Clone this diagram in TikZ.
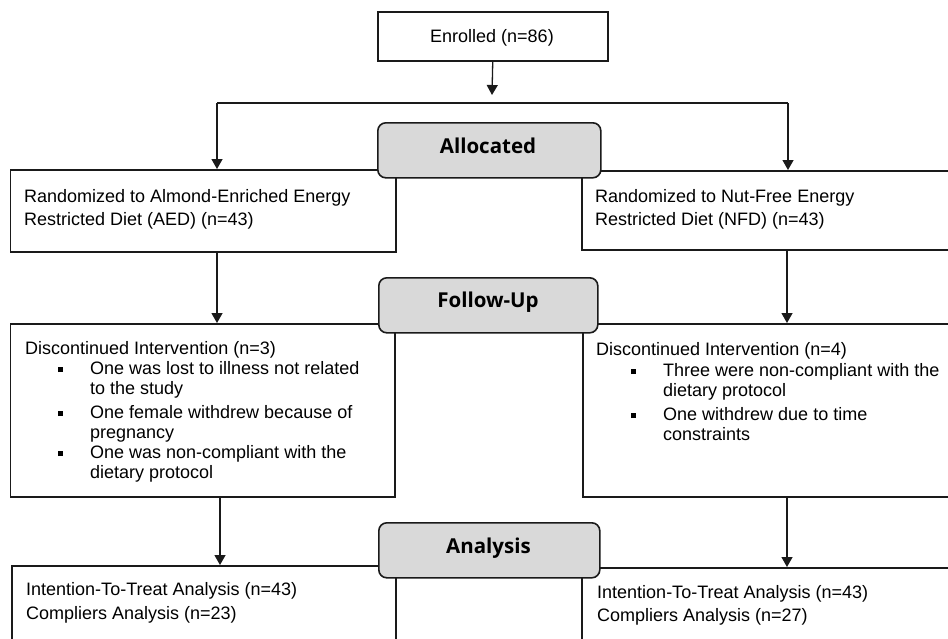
\documentclass[tikz,border=0pt]{standalone}
\usepackage{fontspec}
\setmainfont{Liberation Sans}
\newfontfamily\hdfont{Open Sans}
\usetikzlibrary{arrows.meta}
\definecolor{hdgray}{HTML}{D9D9D9}
\definecolor{ink}{HTML}{1A1A1A}
\tikzset{
 box/.style={draw=ink, line width=1.5pt, fill=white, inner sep=0pt, anchor=north west},
 hdbox/.style={draw=ink, line width=1.6pt, fill=hdgray, rounded corners=8pt, inner sep=0pt, anchor=north west},
 txt/.style={anchor=base west, inner sep=0pt, font=\fontsize{18}{22}\selectfont},
 hdtxt/.style={anchor=base, inner sep=0pt, font=\hdfont\bfseries\fontsize{20.5}{24}\selectfont},
 arr/.style={draw=ink, line width=1.3pt, -{Triangle[length=10pt,width=11pt]}},
 ln/.style={draw=ink, line width=1.3pt},
}
\newcommand{\bulitem}{\makebox[32pt][l]{\rule[2pt]{5pt}{5pt}}}
\begin{document}
\begin{tikzpicture}[x=1pt,y=-1pt]
\clip (0,0) rectangle (948,638);
\fill[white] (0,0) rectangle (948,638);
% white boxes
\node[box, minimum width=230pt, minimum height=49pt] (enr) at (377,11) {};
\node[box, minimum width=385.5pt, minimum height=82pt] (aed) at (9.5,169) {};
\node[box, minimum width=380pt, minimum height=79pt] (nfd) at (581,170) {};
\node[box, minimum width=384.5pt, minimum height=173pt] (disl) at (9.5,323) {};
\node[box, minimum width=380pt, minimum height=173pt] (disr) at (582,323) {};
\node[box, minimum width=384pt, minimum height=100pt] (anl) at (11,565) {};
\node[box, minimum width=380pt, minimum height=100pt] (anr) at (581,567) {};
% connectors
\coordinate (enrtip) at (492,95);
\coordinate (sl) at (217,103);
\coordinate (sr) at (788,103);
\coordinate (xl1) at (217,0);
\coordinate (xr1) at (787,0);
\coordinate (xl2) at (220,0);
\draw[arr] (enr.south) -- (enrtip);
\draw[ln] (sl) -- (sr);
\draw[arr] (sl) -- (sl |- aed.north);
\draw[arr] (sr) -- (sr |- nfd.north);
\draw[arr] (xl1 |- aed.south) -- (xl1 |- disl.north);
\draw[arr] (xr1 |- nfd.south) -- (xr1 |- disr.north);
\draw[arr] (xl2 |- disl.south) -- (xl2 |- anl.north);
\draw[arr] (xr1 |- disr.south) -- (xr1 |- anr.north);
% header boxes
\node[hdbox, minimum width=223pt, minimum height=55pt] (alloc) at (377,122) {};
\node[hdbox, minimum width=219pt, minimum height=55pt] (fu) at (378,277) {};
\node[hdbox, minimum width=221pt, minimum height=55pt] (an) at (378,522) {};
\node[hdtxt] (alloct) at (488,153) {Allocated};
\node[hdtxt] (fut) at (488,307) {Follow-Up};
\node[hdtxt] (ant) at (488.5,553) {Analysis};
% texts
\node[txt, anchor=base] (enrt) at (492,42) {Enrolled (n=86)};
\node[txt] (aed1) at (24,202) {Randomized to Almond-Enriched Energy};
\node[txt] (aed2) at (24,225) {Restricted Diet (AED) (n=43)};
\node[txt] (nfd1) at (595,202) {Randomized to Nut-Free Energy};
\node[txt] (nfd2) at (595,225) {Restricted Diet (NFD) (n=43)};
\node[txt] (dl0) at (25,354) {Discontinued Intervention (n=3)};
\node[txt] (dl1) at (58,374) {\bulitem One was lost to illness not related};
\node[txt] (dl2) at (90,394) {to the study};
\node[txt] (dl3) at (58,418) {\bulitem One female withdrew because of};
\node[txt] (dl4) at (90,438) {pregnancy};
\node[txt] (dl5) at (58,458) {\bulitem One was non-compliant with the};
\node[txt] (dl6) at (90,478) {dietary protocol};
\node[txt] (dr0) at (596,355) {Discontinued Intervention (n=4)};
\node[txt] (dr1) at (631,376) {\bulitem Three were non-compliant with the};
\node[txt] (dr2) at (663,396) {dietary protocol};
\node[txt] (dr3) at (631,420) {\bulitem One withdrew due to time};
\node[txt] (dr4) at (663,440) {constraints};
\node[txt] (al1) at (26,595) {Intention-To-Treat Analysis (n=43)};
\node[txt] (al2) at (26,619) {Compliers Analysis (n=23)};
\node[txt] (ar1) at (597,598) {Intention-To-Treat Analysis (n=43)};
\node[txt] (ar2) at (597,621) {Compliers Analysis (n=27)};
\end{tikzpicture}
\end{document}
